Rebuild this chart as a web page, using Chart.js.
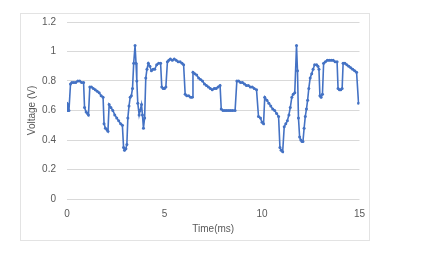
<!DOCTYPE html>
<html>
<head>
<meta charset="utf-8">
<script src="https://cdn.jsdelivr.net/npm/chart.js@4/dist/chart.umd.min.js"></script>
<style>
  html, body { margin: 0; padding: 0; background: #ffffff; width: 432px; height: 254px; overflow: hidden; }
  #frame { position: absolute; left: 20px; top: 13px; width: 350px; height: 228px; box-sizing: border-box; border: 1px solid #e3e3e3; background: #fff; }
  #c { display: block; }
</style>
</head>
<body>
<div id="frame"><canvas id="c" width="348" height="226" style="width:348px;height:226px"></canvas></div>
<script>
const xTitle = "Time(ms)";
const yTitle = "Voltage (V)";
const xTicks = [0, 5, 10, 15];
const yTicks = [0, 0.2, 0.4, 0.6, 0.8, 1, 1.2];

const times = [
  0.00, 0.05, 0.10, 0.18, 0.25, 0.35, 0.45, 0.55, 0.65, 0.75, 0.85, 0.90, 0.98, 1.05, 1.10,
  1.17, 1.25, 1.35, 1.45, 1.55, 1.65, 1.75, 1.85, 1.90, 1.97, 2.05, 2.10,
  2.16, 2.25, 2.35, 2.45, 2.55, 2.65, 2.75, 2.84, 2.90, 2.95, 3.02, 3.07,
  3.12, 3.18, 3.24, 3.30, 3.36, 3.42, 3.49, 3.54, 3.58, 3.63, 3.70, 3.75, 3.82, 3.87, 3.92, 3.98,
  4.04, 4.10, 4.17, 4.25, 4.33, 4.42, 4.50, 4.60, 4.70, 4.80, 4.86, 4.93, 5.00, 5.07,
  5.15, 5.22, 5.30, 5.40, 5.50, 5.60, 5.70, 5.80, 5.90, 5.98, 6.06, 6.14, 6.24, 6.34, 6.42,
  6.46, 6.55, 6.65, 6.75, 6.85, 6.95, 7.05, 7.15, 7.25, 7.35, 7.45, 7.55, 7.65, 7.75, 7.85,
  7.91, 8.00, 8.10, 8.20, 8.30, 8.40, 8.50, 8.62,
  8.71, 8.80, 8.90, 9.00, 9.10, 9.20, 9.30, 9.40, 9.50, 9.60, 9.72,
  9.82, 9.92, 10.00, 10.08,
  10.14, 10.25, 10.35, 10.45, 10.55, 10.65, 10.75, 10.85, 10.92, 10.98, 11.06,
  11.14, 11.22, 11.30, 11.38, 11.45, 11.53, 11.60, 11.68, 11.77, 11.82, 11.87, 11.93, 11.99, 12.05, 12.10,
  12.16, 12.22, 12.28, 12.34, 12.40, 12.47, 12.55, 12.62, 12.70, 12.80, 12.87, 12.92, 12.97, 13.03, 13.10,
  13.16, 13.25, 13.35, 13.45, 13.55, 13.65, 13.75, 13.85, 13.90, 13.97, 14.04, 14.11,
  14.16, 14.25, 14.35, 14.45, 14.55, 14.65, 14.75, 14.85, 14.95
];
const volts = [
  0.65, 0.60, 0.60, 0.78, 0.79, 0.79, 0.79, 0.80, 0.80, 0.79, 0.79, 0.62, 0.59, 0.58, 0.57,
  0.76, 0.76, 0.75, 0.74, 0.73, 0.72, 0.70, 0.69, 0.51, 0.48, 0.47, 0.46,
  0.64, 0.62, 0.60, 0.57, 0.55, 0.53, 0.51, 0.50, 0.35, 0.33, 0.34, 0.37,
  0.55, 0.63, 0.69, 0.70, 0.75, 0.92, 1.04, 0.92, 0.80, 0.65, 0.57, 0.60, 0.64, 0.57, 0.48, 0.55,
  0.82, 0.88, 0.92, 0.90, 0.87, 0.88, 0.88, 0.91, 0.92, 0.92, 0.76, 0.75, 0.75, 0.76,
  0.93, 0.94, 0.95, 0.94, 0.95, 0.94, 0.93, 0.93, 0.92, 0.91, 0.71, 0.70, 0.70, 0.69, 0.69,
  0.86, 0.85, 0.84, 0.82, 0.81, 0.80, 0.78, 0.77, 0.76, 0.75, 0.74, 0.75, 0.75, 0.76, 0.77,
  0.61, 0.60, 0.60, 0.60, 0.60, 0.60, 0.60, 0.60,
  0.80, 0.80, 0.79, 0.79, 0.78, 0.77, 0.77, 0.76, 0.76, 0.75, 0.74,
  0.56, 0.55, 0.52, 0.51,
  0.69, 0.67, 0.65, 0.63, 0.61, 0.60, 0.58, 0.56, 0.35, 0.33, 0.32,
  0.49, 0.51, 0.53, 0.57, 0.62, 0.69, 0.71, 0.72, 1.04, 0.87, 0.55, 0.42, 0.40, 0.39, 0.39,
  0.48, 0.56, 0.61, 0.67, 0.75, 0.82, 0.85, 0.88, 0.91, 0.91, 0.90, 0.88, 0.70, 0.69, 0.71,
  0.92, 0.93, 0.94, 0.94, 0.94, 0.94, 0.93, 0.93, 0.75, 0.74, 0.74, 0.75,
  0.92, 0.92, 0.91, 0.90, 0.89, 0.88, 0.87, 0.86, 0.65
];

const points = times.map((t, i) => ({ x: t, y: volts[i] }));
const textColor = '#595959';
const gridColor = '#d9d9d9';
const font = { family: "'Liberation Sans', Arial, sans-serif", size: 10 };

new Chart(document.getElementById('c'), {
  type: 'line',
  data: {
    datasets: [{
      data: points,
      borderColor: '#4472C4',
      backgroundColor: '#4472C4',
      borderWidth: 1.6,
      pointRadius: 1.5,
      pointBorderWidth: 0,
      pointBackgroundColor: '#4472C4',
      tension: 0,
      fill: false
    }]
  },
  options: {
    responsive: false,
    animation: false,
    layout: { padding: { top: 8, right: 9.5, bottom: 0, left: 0 } },
    plugins: { legend: { display: false }, tooltip: { enabled: false } },
    scales: {
      x: {
        type: 'linear',
        min: 0, max: 15,
        afterBuildTicks: (s) => { s.ticks = xTicks.map(v => ({ value: v })); },
        afterFit: (s) => { s.height = 41; s.paddingLeft = 0; s.paddingRight = 0; },
        grid: { display: false, drawTicks: false },
        border: { display: false },
        ticks: { color: textColor, font: font, padding: 9, maxRotation: 0, callback: (v) => String(v) },
        title: { display: true, text: xTitle, color: textColor, font: font, padding: { top: 0, bottom: 5 } }
      },
      y: {
        type: 'linear',
        min: 0, max: 1.2,
        afterBuildTicks: (s) => { s.ticks = yTicks.map(v => ({ value: v })); },
        afterFit: (s) => { s.width = 46; s.paddingTop = 0; s.paddingBottom = 0; },
        grid: { color: gridColor, lineWidth: 1, drawTicks: false },
        border: { display: false },
        ticks: { color: textColor, font: font, padding: 11, callback: (v) => String(v) },
        title: { display: true, text: yTitle, color: textColor, font: font, padding: { top: 5, bottom: 0 } }
      }
    }
  }
});
</script>
</body>
</html>
